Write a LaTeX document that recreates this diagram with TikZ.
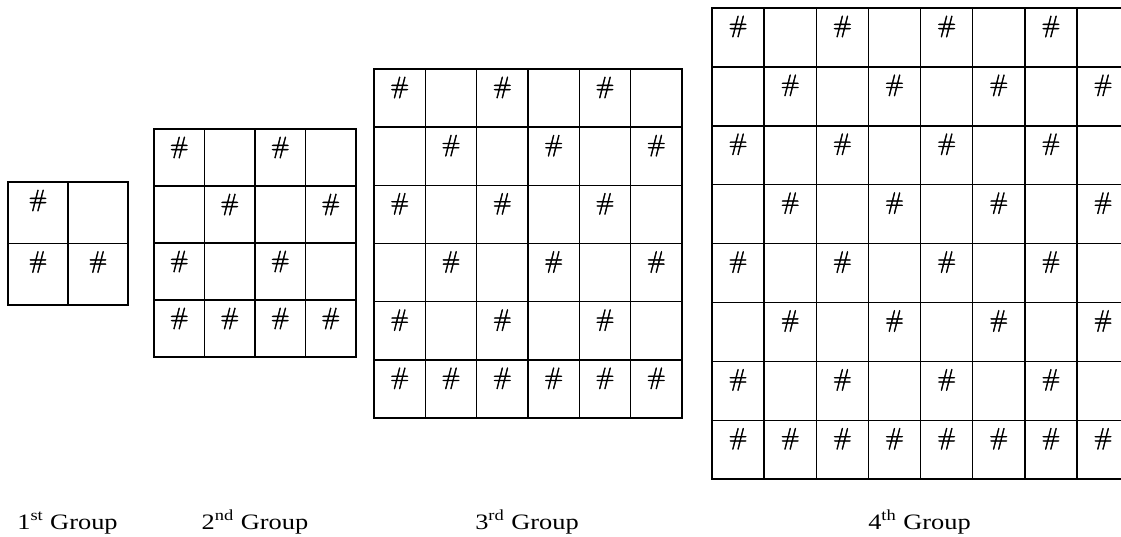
\documentclass[tikz,border=0pt]{standalone}
\usepackage{fontspec}
\setmainfont{Liberation Serif}
\newfontfamily\hashfont[FakeBold=2]{Latin Modern Roman}
\usepackage{graphicx}
\newcommand{\hashsym}{{\hashfont\#}}
\newcommand{\wide}[1]{\scalebox{1.2}[1]{#1}}
% \hashgrid{name}{left}{top}{cells per side}{cell width}{cell height}
\newcommand{\hashgrid}[6]{%
  \foreach \r in {1,...,#4} {
    \foreach \c in {1,...,#4} {
      \pgfmathsetmacro{\xl}{#2+(\c-1)*#5}
      \pgfmathsetmacro{\yt}{#3+(\r-1)*#6}
      \draw[gridline] (\xl,\yt) rectangle ++(#5,#6);
      \pgfmathtruncatemacro{\marked}{or(mod(\r+\c,2)==0, \r==#4)}
      \ifnum\marked=1
        \node[hashnode] (#1-\r-\c) at (\xl+#5/2, \yt+18.5) {\hashsym};
      \fi
    }
  }
}

\begin{document}
\begin{tikzpicture}[x=0.75pt, y=-0.75pt,
    gridline/.style={line width=1.1pt, black},
    hashnode/.style={inner sep=0pt, font=\fontsize{18}{22}\selectfont},
    grouplabel/.style={anchor=base, font=\fontsize{16.5}{20}\selectfont}]
    \useasboundingbox (0,0) rectangle (1121,536);

    % The four groups, each one a square of cells
    \hashgrid{ga}{8}{182}{2}{60}{61.5}
    \hashgrid{gb}{154}{129}{4}{50.5}{57}
    \hashgrid{gc}{374}{69}{6}{51.33}{58.17}
    \hashgrid{gd}{712}{8}{8}{52.14}{58.9}

    % Names under the groups
    \node[grouplabel] (laba) at (67.5, 529) {\wide{1\textsuperscript{st} Group}};
    \node[grouplabel] (labb) at (255, 529) {\wide{2\textsuperscript{nd} Group}};
    \node[grouplabel] (labc) at (527, 529) {\wide{3\textsuperscript{rd} Group}};
    \node[grouplabel] (labd) at (919.5, 529) {\wide{4\textsuperscript{th} Group}};
\end{tikzpicture}
\end{document}
